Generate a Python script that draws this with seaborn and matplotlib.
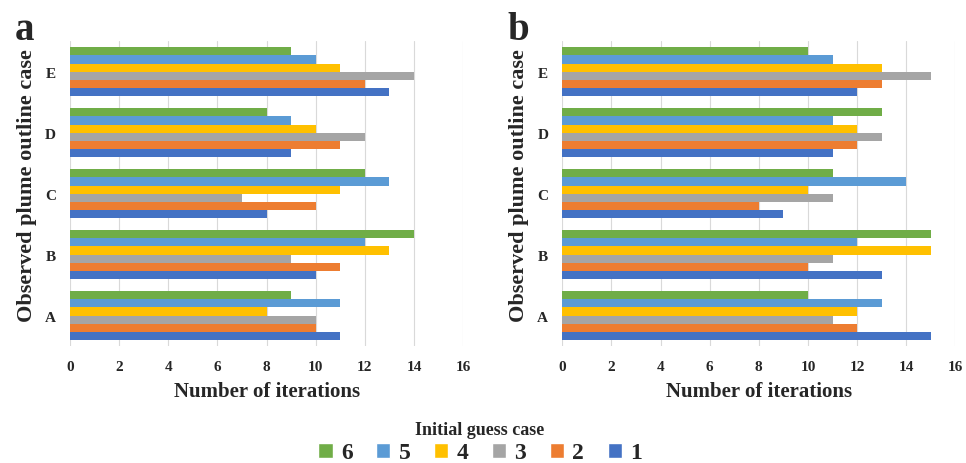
import pandas as pd
import matplotlib.pyplot as plt
import seaborn as sns
from matplotlib.patches import Patch

# Observed plume outline cases (top to bottom) and initial guess cases
outlines = ['E', 'D', 'C', 'B', 'A']
guesses = ['6', '5', '4', '3', '2', '1']

# iterations per outline case, one list per guess case 6..1
iters_a = {
    '6': [9, 8, 12, 14, 9],
    '5': [10, 9, 13, 12, 11],
    '4': [11, 10, 11, 13, 8],
    '3': [14, 12, 7, 9, 10],
    '2': [12, 11, 10, 11, 10],
    '1': [13, 9, 8, 10, 11],
}
iters_b = {
    '6': [10, 13, 11, 15, 10],
    '5': [11, 11, 14, 12, 13],
    '4': [13, 12, 10, 15, 12],
    '3': [15, 13, 11, 11, 11],
    '2': [13, 12, 8, 10, 12],
    '1': [12, 11, 9, 13, 15],
}

colors = {'6': '#70AD47', '5': '#5B9BD5', '4': '#FFC000',
          '3': '#A5A5A5', '2': '#ED7D31', '1': '#4472C4'}


def to_long(d):
    rows = []
    for g in guesses:
        for o, v in zip(outlines, d[g]):
            rows.append({'outline': o, 'guess': g, 'iterations': v})
    return pd.DataFrame(rows)


sns.set_style('white')
plt.rcParams['font.family'] = ['Liberation Serif', 'DejaVu Serif']

fig = plt.figure(figsize=(9.66, 4.64), dpi=100)
ax_a = fig.add_axes([0.0725, 0.252, 0.407, 0.657])
ax_b = fig.add_axes([0.582, 0.252, 0.407, 0.657])

for ax, data, tag in [(ax_a, iters_a, 'a'), (ax_b, iters_b, 'b')]:
    df = to_long(data)
    sns.barplot(data=df, y='outline', x='iterations', hue='guess',
                order=outlines, hue_order=guesses, palette=colors,
                width=0.8, orient='h', ax=ax, legend=False,
                saturation=1, linewidth=0)
    ax.set_xlim(0, 16)
    ax.set_xticks(range(0, 17, 2))
    ax.grid(axis='x', color='#D9D9D9', linewidth=0.8)
    ax.set_axisbelow(True)
    for s in ax.spines.values():
        s.set_visible(False)
    ax.tick_params(length=0, labelsize=11, pad=10)
    for lab in ax.get_xticklabels() + ax.get_yticklabels():
        lab.set_fontweight('bold')
    ax.set_xlabel('Number of iterations', fontsize=15, fontweight='bold', labelpad=6)
    ax.set_ylabel('Observed plume outline case', fontsize=16, fontweight='bold')
    ax.yaxis.set_label_coords(-0.085, 0.53)
    ax.text(-0.14, 1.04, tag, transform=ax.transAxes, fontsize=28,
            fontweight='bold', va='center', ha='left')

handles = [Patch(facecolor=colors[g], label=g) for g in guesses]
leg = fig.legend(handles=handles, loc='center', bbox_to_anchor=(0.497, 0.045),
                 ncol=6, frameon=False, title='Initial guess case',
                 prop={'size': 17, 'weight': 'bold'}, handlelength=0.6,
                 handleheight=0.6, handletextpad=0.35, columnspacing=1.0,
                 borderpad=0.1, labelspacing=0.2)
leg.get_title().set_fontsize(13)
leg.get_title().set_fontweight('bold')

fig.savefig('out.png', dpi=100)
